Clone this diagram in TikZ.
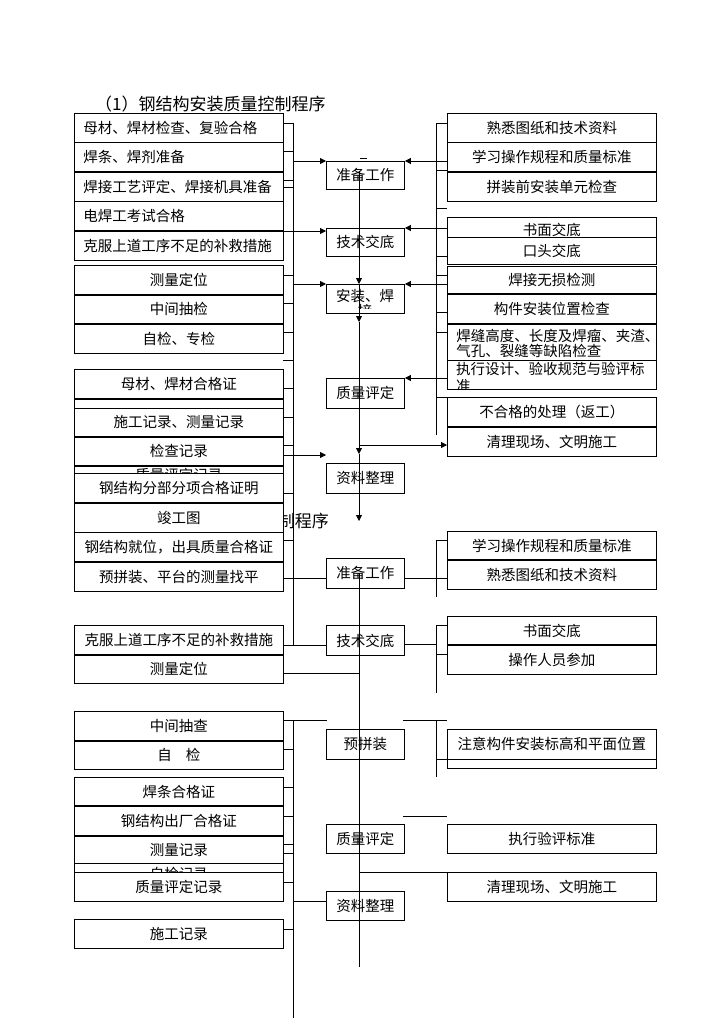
\documentclass[tikz,border=0pt]{standalone}
\usepackage{fontspec}
\setmainfont{Noto Sans CJK SC}
\usetikzlibrary{arrows.meta, positioning}

\begin{document}
\begin{tikzpicture}[x=1pt, y=-1pt, node distance=0pt]
    \tikzset{
        box/.style = {rectangle, draw, fill=white, line width=0.9pt, inner sep=0pt, minimum height=28.6pt, font=\fontsize{14.5pt}{15pt}\selectfont},
        lrow/.style = {box, anchor=north west, text width=191pt, inner xsep=9pt, align=left},
        crow/.style = {box, anchor=north west, text width=209pt, align=center},
        midbox/.style = {box, anchor=north west, minimum width=78pt, minimum height=29pt},
        heading/.style = {anchor=west, inner sep=0pt, font=\fontsize{17pt}{19pt}\selectfont},
        line/.style = {draw, line width=0.8pt},
        arr/.style = {line, -{Triangle[length=6pt, width=6pt]}}
    }
    \fill[white] (0,0) rectangle (724,1024);
    \useasboundingbox (0,0) rectangle (724,1024);

    \node[heading] (title1) at (95,104) {（1）钢结构安装质量控制程序};
    \node[heading, anchor=east] (title2) at (329,521) {制程序};

    % left column
    \node[lrow] (a1) at (74,113) {母材、焊材检查、复验合格};
    \node[lrow, below=of a1] (a2) {焊条、焊剂准备};
    \node[lrow, below=of a2] (a3) {焊接工艺评定、焊接机具准备};
    \node[lrow, below=of a3] (a4) {电焊工考试合格};
    \node[lrow, below=of a4] (a5) {克服上道工序不足的补救措施};

    \node[crow] (b1) at (74,265) {测量定位};
    \node[crow, below=of b1] (b2) {中间抽检};
    \node[crow, below=of b2] (b3) {自检、专检};

    \node[crow, minimum height=29pt] (c1) at (74,369) {母材、焊材合格证};
    \node[crow, minimum height=37pt] (c2) at (74,399) {};
    \node[crow, minimum height=28pt] (c3) at (74,408) {施工记录、测量记录};
    \node[crow, minimum height=28pt, below=of c3] (c4) {检查记录};
    \node[crow, minimum height=18pt] (c5) at (74,466) {质量评定记录};

    \node[crow, minimum height=29pt] (d1) at (74,473) {钢结构分部分项合格证明};
    \node[crow, below=of d1] (d2) {竣工图};
    \node[crow, below=of d2] (d3) {钢结构就位，出具质量合格证};
    \node[crow, below=of d3] (d4) {预拼装、平台的测量找平};

    \node[crow] (e1) at (74,625) {克服上道工序不足的补救措施};
    \node[crow, below=of e1] (e2) {测量定位};

    \node[crow] (f1) at (74,711) {中间抽查};
    \node[crow, below=of f1] (f2) {自\hspace{14pt}检};

    \node[crow, minimum height=28.4pt] (g1) at (74,777) {焊条合格证};
    \node[crow, minimum height=28.4pt, below=of g1] (g2) {钢结构出厂合格证};
    \node[crow, minimum height=28.4pt, below=of g2] (g3) {测量记录};
    \node[crow, minimum height=20pt] (g4) at (74,863) {自检记录};
    \node[crow, minimum height=29pt] (g5) at (74,872) {质量评定记录};

    \node[crow, minimum height=29pt] (h1) at (74,919) {施工记录};

    % middle column
    \node[midbox, minimum height=28pt] (m1) at (326,161) {准备工作};
    \node[midbox, minimum height=28pt] (m2) at (326,228) {技术交底};
    \node[midbox] (m3) at (326,284) {};
    \begin{scope}
        \clip (326,284) rectangle (404,308);
        \node[anchor=north, inner sep=0pt, align=center, font=\fontsize{14.5pt}{15pt}\selectfont] at (365,289) {安装、焊\\接};
    \end{scope}
    \node[midbox, minimum height=30pt] (m4) at (326,378) {质量评定};
    \node[midbox, minimum height=30pt] (m5) at (326,463) {资料整理};

    \node[midbox, minimum height=30pt] (n1) at (326,558) {准备工作};
    \node[midbox, minimum height=30pt] (n2) at (326,625) {技术交底};
    \node[midbox, minimum height=30pt] (n3) at (326,729) {预拼装};
    \node[midbox] (n4) at (326,824) {质量评定};
    \node[midbox] (n5) at (326,891) {资料整理};

    % right column
    \node[crow] (r1) at (447,113) {熟悉图纸和技术资料};
    \node[crow, below=of r1] (r2) {学习操作规程和质量标准};
    \node[crow, below=of r2] (r3) {拼装前安装单元检查};
    \node[crow, minimum height=26pt] (r4) at (447,217) {书面交底};
    \node[crow, minimum height=27pt] (r5) at (447,237) {口头交底};
    \node[crow, minimum height=27pt] (r6) at (447,266) {焊接无损检测};
    \node[crow, minimum height=29pt, below=of r6] (r7) {构件安装位置检查};
    \node[lrow, minimum height=38pt, below=of r7] (r8) {焊缝高度、长度及焊瘤、夹渣、\\气孔、裂缝等缺陷检查};
    \node[crow, minimum height=29pt] (r9) at (447,360) {};
    \begin{scope}
        \clip (447,360) rectangle (656,389);
        \node[anchor=north west, inner sep=0pt, align=left, font=\fontsize{14.5pt}{17pt}\selectfont] at (456,362) {执行设计、验收规范与验评标\\准};
    \end{scope}
    \node[crow, minimum height=29pt] (r10) at (447,397) {不合格的处理（返工）};
    \node[crow, minimum height=29pt, below=of r10] (r11) {清理现场、文明施工};

    \node[crow, minimum height=28pt] (s1) at (447,531) {学习操作规程和质量标准};
    \node[crow, minimum height=29pt, below=of s1] (s2) {熟悉图纸和技术资料};
    \node[crow, minimum height=28pt] (s3) at (447,616) {书面交底};
    \node[crow, minimum height=29pt, below=of s3] (s4) {操作人员参加};
    \node[crow, minimum height=39pt] (s5b) at (447,729) {};
    \node[crow, minimum height=30pt] (s5) at (447,729) {注意构件安装标高和平面位置};
    \node[crow, minimum height=29pt] (s6) at (447,824) {执行验评标准};
    \node[crow, minimum height=29pt] (s7) at (447,872) {清理现场、文明施工};

    % trunks
    \coordinate (lt) at (293,123);
    \coordinate (lb) at (293,645);
    \coordinate (rt) at (436,123);
    \coordinate (rb) at (436,435);
    \coordinate (ct) at (359,171);
    \coordinate (c1) at (359,322);
    \coordinate (c2) at (359,454);
    \coordinate (c3) at (359,445);
    \coordinate (cb) at (359,521);
    \coordinate (k1) at (283,455);
    \coordinate (k2) at (283,578);
    \coordinate (k3) at (283,673);
    \coordinate (lt2) at (293,720);
    \coordinate (lb2) at (293,1018);
    \coordinate (ct2) at (359,573);
    \coordinate (cb2) at (359,967);

    \path[line] (lt) -- (lb);
    \path[line] (rt) -- (rb);
    \foreach \y in {123,151,180,187,275,303,332,360,388,417,445,493,540}
        \path[line] (283,\y) -- (293,\y);
    \foreach \y in {123,170,208,256,275,312,332,397}
        \path[line] (436,\y) -- (447,\y);
    \path[line] (360,158) -- (367,158);

    \path[arr] (m1.north west -| lt) -- (m1.north west);
    \path[arr] (m1.north east -| r1.west) -- (m1.north east);
    \path[arr] (a5.north east) -- (a5.north east -| m2.west);
    \path[arr] (m2.north east -| r1.west) -- (m2.north east);
    \path[arr] (m3.north west -| lt) -- (m3.north west);
    \path[arr] (m3.north east -| r1.west) -- (m3.north east);
    \path[arr] (m4.north east -| r1.west) -- (m4.north east);
    \path[arr] (ct) -- (m3.north -| ct);
    \path[arr] (m3.north -| ct) -- (c1);
    \path[arr] (c1) -- (c2);
    \path[arr] (c2) -- (cb);
    \path[arr] (c3) -- (c3 -| r11.west);
    \path[arr] (k1) -- (k1 -| m5.west);

    \path[line] (k2) -- (k2 -| n1.west);
    \path[line] (n1.east |- k2) -- (k2 -| s2.west);
    \path[line] (436,540) -- (436,597);
    \path[line] (436,540) -- (447,540);
    \path[line] (e1.east |- lb) -- (lb -| n2.west);
    \path[line] (n2.east |- 0,644) -- (436,644);
    \path[line] (436,625) -- (436,693);
    \path[line] (436,625) -- (447,625);
    \path[line] (436,654) -- (447,654);
    \path[line] (k3) -- (k3 -| ct2);
    \path[line] (ct2) -- (cb2);

    \path[line] (lt2) -- (lb2);
    \path[line] (f1.east |- lt2) -- (327,720);
    \foreach \y in {749,787,816,844,853,882,929}
        \path[line] (283,\y) -- (293,\y);
    \path[line] (lt2 |- n5.west) ++(0,-4.5) -- ([yshift=4.5pt]n5.west);
    \path[line] (403,720) -- (447,720);
    \path[line] (436,720) -- (436,777);
    \path[line] (436,759) -- (447,759);
    \path[line] (403,816) -- (447,816);
    \path[line] (s7.north west -| ct2) -- (s7.north west);
\end{tikzpicture}
\end{document}
